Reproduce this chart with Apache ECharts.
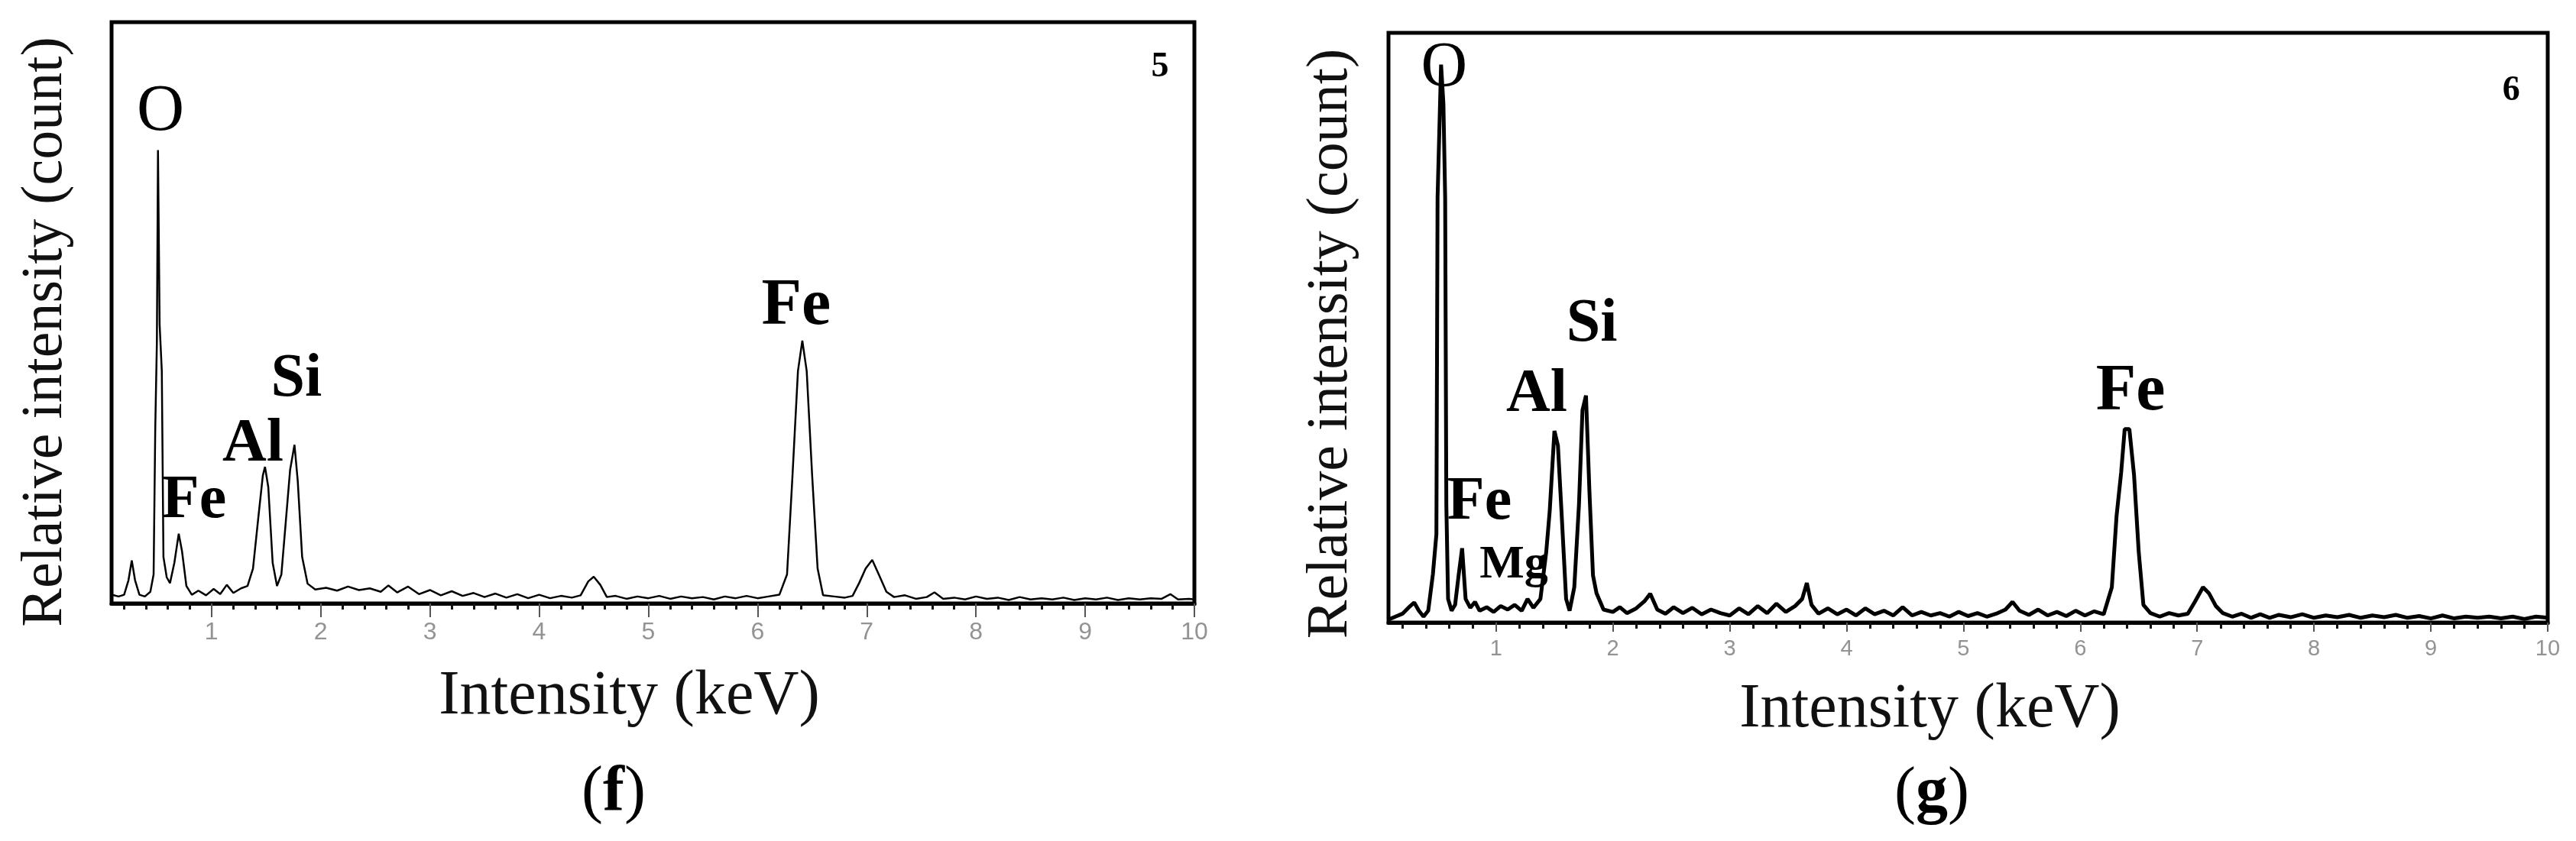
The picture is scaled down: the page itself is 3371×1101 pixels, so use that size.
<!DOCTYPE html>
<html>
<head>
<meta charset="utf-8">
<script src="https://cdn.jsdelivr.net/npm/echarts@6/dist/echarts.min.js"></script>
<style>html,body{margin:0;padding:0;background:#fff}#c{width:3371px;height:1101px}</style>
</head>
<body>
<div id="c"></div>
<script>
// ---------- data ----------
const tickLabels = ['1','2','3','4','5','6','7','8','9','10'];

// panel (f): energy (keV) and relative counts
const keVF = [0.085,0.15,0.20,0.24,0.27,0.30,0.34,0.39,0.44,0.47,
  0.485,0.50,0.51,0.525,0.545,0.56,0.59,0.62,0.66,0.70,
  0.73,0.77,0.82,0.88,0.95,1.02,1.08,1.14,1.20,1.27,
  1.33,1.38,1.43,1.47,1.49,1.52,1.56,1.60,1.64,1.68,
  1.72,1.76,1.79,1.83,1.88,1.95,2.05,2.15,2.25,2.35,
  2.45,2.55,2.62,2.70,2.80,2.90,3.00,3.10,3.20,3.30,
  3.40,3.50,3.60,3.70,3.80,3.90,4.00,4.10,4.20,4.30,
  4.38,4.45,4.50,4.56,4.62,4.70,4.80,4.90,5.00,5.10,
  5.20,5.30,5.40,5.50,5.60,5.70,5.80,5.90,6.00,6.10,
  6.20,6.27,6.32,6.37,6.41,6.45,6.50,6.55,6.60,6.70,
  6.80,6.87,6.93,6.99,7.05,7.11,7.18,7.25,7.35,7.45,
  7.55,7.62,7.70,7.80,7.90,8.00,8.10,8.20,8.30,8.40,
  8.50,8.60,8.70,8.80,8.90,9.00,9.10,9.20,9.30,9.40,
  9.50,9.60,9.70,9.78,9.85,9.95,10.0];
const countF = [1.5,1.2,1.5,4,7.4,4,1.5,1.2,2,5,
  30,45,78,48,40,8,4.5,3.5,7,12,
  9,3,1.5,2.2,1.4,2.5,1.6,3.2,1.8,2.6,
  3,6,15,22,23.5,20,7,3,5,14,
  23,27.3,21,8,3.4,2.4,2.7,2.2,2.9,2.3,
  2.6,2.0,3.1,1.9,2.9,1.6,2.3,1.4,2.1,1.3,
  1.8,1.1,1.7,1.0,1.6,0.9,1.5,0.9,1.3,1.0,
  1.4,3.8,4.6,3.2,1.1,1.3,0.8,1.2,0.9,1.3,
  0.8,1.2,0.9,1.1,0.7,1.2,0.9,1.3,0.9,1.2,
  1.5,5,22,40,45.2,40,22,6,1.4,1.2,
  1.0,1.3,3.5,6,7.5,5,2,1.1,1.4,0.8,
  1.1,1.9,0.8,1.0,0.7,1.2,0.8,1.0,0.6,1.1,
  0.7,0.9,0.7,1.0,0.6,0.9,0.7,1.0,0.6,0.9,
  0.7,0.9,0.8,1.6,0.7,0.8,0.7];

// panel (g)
const keVG = [0.08,0.14,0.20,0.25,0.30,0.34,0.38,0.42,0.46,0.49,
  0.50,0.53,0.55,0.565,0.575,0.59,0.62,0.65,0.68,0.71,
  0.74,0.78,0.82,0.86,0.92,0.98,1.04,1.10,1.16,1.22,
  1.27,1.32,1.38,1.43,1.46,1.50,1.53,1.56,1.60,1.63,
  1.67,1.71,1.74,1.77,1.80,1.83,1.86,1.92,2.00,2.06,
  2.12,2.20,2.27,2.32,2.38,2.45,2.52,2.60,2.68,2.76,
  2.84,2.92,3.00,3.08,3.16,3.24,3.32,3.40,3.48,3.56,
  3.62,3.66,3.70,3.76,3.84,3.92,4.00,4.08,4.16,4.24,
  4.32,4.40,4.48,4.56,4.64,4.72,4.80,4.88,4.96,5.04,
  5.12,5.20,5.28,5.36,5.42,5.48,5.56,5.64,5.72,5.80,
  5.88,5.96,6.04,6.12,6.20,6.27,6.31,6.35,6.38,6.42,
  6.46,6.50,6.54,6.60,6.68,6.76,6.84,6.92,6.98,7.05,
  7.10,7.16,7.22,7.30,7.38,7.46,7.54,7.62,7.70,7.80,
  7.90,8.00,8.10,8.20,8.30,8.40,8.50,8.60,8.70,8.80,
  8.90,9.00,9.10,9.20,9.30,9.40,9.50,9.60,9.70,9.80,
  9.90,10.0];
const countG = [0.5,1.0,1.5,2.5,3.4,2.0,1.0,2.0,8.2,15,
  72,94.6,88,72,20,4,2,3,8,12.6,
  4,2.5,3.5,2.0,2.6,1.8,2.8,2.2,3.0,2.0,
  4,2.5,4,12,19,32.5,30,19,4,2,
  6,20,36,38.5,22,8,5,2.2,1.8,2.6,
  1.6,2.4,3.6,4.9,2.2,1.5,2.6,1.6,2.5,1.4,
  2.2,1.6,1.2,2.4,1.4,2.8,1.6,3.2,1.8,2.8,
  4,6.7,3.0,1.5,2.4,1.4,2.2,1.2,2.4,1.4,
  2.0,1.2,2.6,1.2,1.8,1.2,1.6,1.0,1.8,1.1,
  1.6,1.0,1.5,2.2,3.5,2.0,1.3,2.2,1.2,1.8,
  1.1,2.0,1.2,1.9,1.4,6,18,25.5,32.8,32.8,
  25,12,3,1.6,1.0,1.6,1.2,1.5,3.5,6,
  5,2.8,1.6,1.0,1.5,0.8,1.4,0.8,1.3,0.9,
  1.4,0.8,1.2,0.9,1.3,0.8,1.2,0.9,1.3,0.8,
  1.1,0.7,1.2,0.7,1.0,0.8,1.0,0.7,1.0,0.6,
  1.0,0.8];

// peak annotations (element names, anchored in data space: keV, count)
const labelNamesF = ['O','Fe','Al','Si','Fe','5'];
const labelKeVF   = [0.533,0.841,1.38,1.778,6.354,9.685];
const labelCountF = [84.5,17.6,27.3,38.5,51.0,92.2];
const labelNamesG = ['O','Fe','Mg','Al','Si','Fe','6'];
const labelKeVG   = [0.557,0.858,1.152,1.349,1.82,6.43,9.687];
const labelCountG = [93.8,20.3,9.7,38.6,50.5,39.0,90.2];

// ---------- styles ----------
const serif = "'Liberation Serif','Times New Roman',serif";
const sans = "'Liberation Sans',Arial,sans-serif";
const fontF = [86,80,80,80,86,46];
const weightF = ['normal','bold','bold','bold','bold','bold'];
const fontG = [84,80,62,80,80,86,46];
const weightG = ['normal','bold','bold','bold','bold','bold','bold'];
const tickValues = tickLabels.map(Number);

function marks(names, xs, ys, fonts, weights) {
  return names.map((n, i) => ({
    name: n, coord: [xs[i], ys[i]],
    label: { fontSize: fonts[i], fontWeight: weights[i] }
  }));
}

function xAxisCfg(gi, min, tickLen, labelSize, labelMargin, nameGap, padRight) {
  return {
    gridIndex: gi, type: 'value', min: min, max: 10, splitNumber: 10,
    axisLine: { show: true, onZero: false, lineStyle: { color: '#000', width: 5 } },
    axisTick: { show: true, inside: false, length: tickLen, customValues: tickValues,
      lineStyle: { color: '#555', width: 2 } },
    minorTick: { show: true, splitNumber: 5, length: 8, lineStyle: { color: '#111', width: 3 } },
    axisLabel: { show: true, customValues: tickValues, margin: labelMargin,
      color: '#939393', fontFamily: sans, fontSize: labelSize,
      formatter: v => (Math.abs(v - Math.round(v)) < 1e-6 ? String(Math.round(v)) : '') },
    splitLine: { show: false },
    name: 'Intensity (keV)', nameLocation: 'middle', nameGap: nameGap,
    nameTextStyle: { fontFamily: serif, fontSize: 82, color: '#111', padding: [0, padRight, 0, 0] }
  };
}

function yAxisCfg(gi, nameGap, padRight) {
  return {
    gridIndex: gi, type: 'value', min: 0, max: 100,
    axisLine: { show: false }, axisTick: { show: false }, axisLabel: { show: false },
    splitLine: { show: false },
    name: 'Relative intensity (count)', nameLocation: 'middle', nameRotate: 90, nameGap: nameGap,
    nameTextStyle: { fontFamily: serif, fontSize: 76, color: '#111', padding: [0, padRight, 0, 0] }
  };
}

function spectrum(gi, xs, ys, width, markData) {
  return {
    type: 'line', xAxisIndex: gi, yAxisIndex: gi,
    data: xs.map((x, i) => [x, ys[i]]),
    showSymbol: false, symbol: 'none', smooth: false, silent: true,
    lineStyle: { color: '#000', width: width },
    markPoint: {
      symbol: 'circle', symbolSize: 1, silent: true,
      itemStyle: { color: 'rgba(0,0,0,0)' },
      label: { show: true, position: 'inside', formatter: '{b}', color: '#000', fontFamily: serif },
      data: markData
    }
  };
}

const chart = echarts.init(document.getElementById('c'), null, { renderer: 'canvas', width: 3371, height: 1101 });
chart.setOption({
  animation: false,
  backgroundColor: '#fff',
  grid: [
    { left: 146, top: 29, width: 1417, height: 761, show: true, borderColor: '#000', borderWidth: 5, containLabel: false, outerBoundsMode: 'none' },
    { left: 1817, top: 43, width: 1517, height: 772, show: true, borderColor: '#000', borderWidth: 5, containLabel: false, outerBoundsMode: 'none' }
  ],
  xAxis: [
    xAxisCfg(0, 0.085, 18, 32, 22, 81, 62),
    xAxisCfg(1, 0.08, 12, 29, 20, 73, 100)
  ],
  yAxis: [
    yAxisCfg(0, 48, 50),
    yAxisCfg(1, 37, 42)
  ],
  series: [
    spectrum(0, keVF, countF, 2.5, marks(labelNamesF, labelKeVF, labelCountF, fontF, weightF)),
    spectrum(1, keVG, countG, 5, marks(labelNamesG, labelKeVG, labelCountG, fontG, weightG))
  ],
  graphic: [
    { type: 'text', x: 803, y: 1039, style: { text: '{p|(}{b|f}{p|)}', align: 'center', verticalAlign: 'middle',
      rich: { p: { fontFamily: serif, fontSize: 84, fill: '#000' }, b: { fontFamily: serif, fontSize: 84, fontWeight: 'bold', fill: '#000' } } } },
    { type: 'text', x: 2528, y: 1040, style: { text: '{p|(}{b|g}{p|)}', align: 'center', verticalAlign: 'middle',
      rich: { p: { fontFamily: serif, fontSize: 84, fill: '#000' }, b: { fontFamily: serif, fontSize: 84, fontWeight: 'bold', fill: '#000' } } } }
  ]
});
</script>
</body>
</html>
